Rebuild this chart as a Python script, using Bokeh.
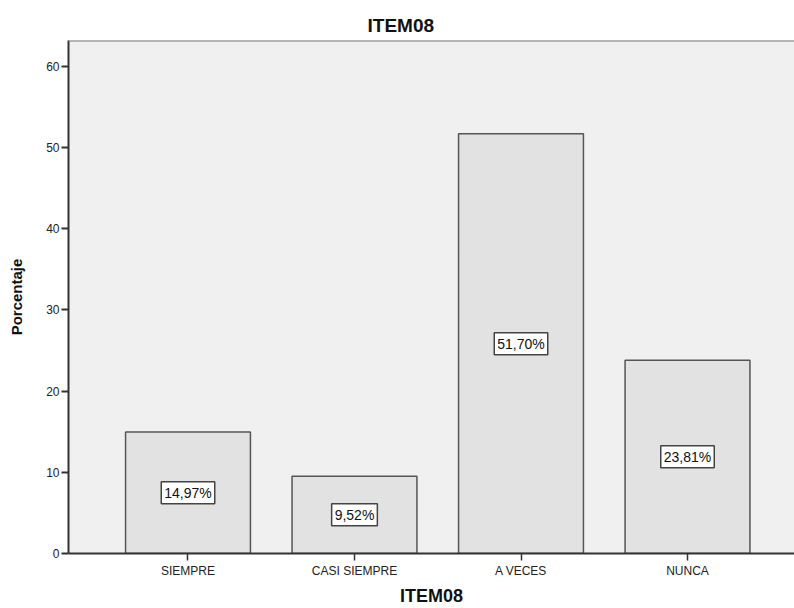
from bokeh.plotting import figure
from bokeh.models import Range1d, FixedTicker, ColumnDataSource, Span
from bokeh.core.properties import value
from bokeh.embed import file_html
from bokeh.resources import INLINE

categories = ["SIEMPRE", "CASI SIEMPRE", "A VECES", "NUNCA"]
percentages = [14.97, 9.52, 51.70, 23.81]
bar_labels = ["14,97%", "9,52%", "51,70%", "23,81%"]
y_ticks = [0, 10, 20, 30, 40, 50, 60]

FONT = "Liberation Sans"
positions = [i + 1 for i in range(len(categories))]
src = ColumnDataSource(dict(
    x=positions,
    top=percentages,
    mid=[v / 2 for v in percentages],
    lab=bar_labels,
))

Y_END = 63.2
p = figure(width=794, height=608, output_backend="svg", toolbar_location=None,
           x_range=Range1d(0.2823, 4.6426), y_range=Range1d(0, Y_END),
           min_border_left=68, min_border_right=0, min_border_top=40,
           min_border_bottom=55, background_fill_color="#F0F0F0",
           border_fill_color="white")
p.outline_line_color = None
p.xgrid.visible = False
p.ygrid.visible = False

p.title.text = "ITEM08"
p.title.align = "left"
p.title.offset = 299
p.title.text_font = FONT
p.title.text_font_size = "19px"
p.title.text_font_style = "bold"
p.title.text_color = "#111111"
p.title.standoff = 9

p.vbar(x="x", top="top", width=0.75, source=src, fill_color="#E2E2E2",
       line_color="#555555", line_width=1.5)

p.text(x="x", y="mid", text="lab", source=src, text_align="center",
       text_baseline="middle", text_font=value(FONT), text_font_size="14px",
       text_color="#111111", background_fill_color="white",
       border_line_color="#444444", border_line_width=1.5, padding=3)

p.add_layout(Span(location=Y_END, dimension="width", line_color="#777777",
                  line_width=2))

xa = p.xaxis[0]
xa.ticker = FixedTicker(ticks=positions)
xa.major_label_overrides = {pos: cat for pos, cat in zip(positions, categories)}
xa.axis_label = "ITEM08"
xa.axis_label_text_font = FONT
xa.axis_label_text_font_size = "18px"
xa.axis_label_text_font_style = "bold"
xa.axis_label_text_color = "#111111"
xa.axis_label_standoff = 5
xa.major_label_text_font = FONT
xa.major_label_text_font_size = "12px"
xa.major_label_text_color = "#222222"
xa.major_label_standoff = 3
xa.major_tick_in = 0
xa.major_tick_out = 7
xa.minor_tick_line_color = None
xa.axis_line_color = "#333333"
xa.axis_line_width = 2
xa.major_tick_line_color = "#333333"
xa.major_tick_line_width = 1.5

ya = p.yaxis[0]
ya.ticker = FixedTicker(ticks=y_ticks)
ya.axis_label = "Porcentaje"
ya.axis_label_text_font = FONT
ya.axis_label_text_font_size = "15px"
ya.axis_label_text_font_style = "bold"
ya.axis_label_text_color = "#111111"
ya.axis_label_standoff = 18
ya.major_label_text_font = FONT
ya.major_label_text_font_size = "12px"
ya.major_label_text_color = "#222222"
ya.major_label_standoff = 2
ya.major_tick_in = 0
ya.major_tick_out = 7
ya.minor_tick_line_color = None
ya.axis_line_color = "#333333"
ya.axis_line_width = 2
ya.major_tick_line_color = "#333333"
ya.major_tick_line_width = 2

open("out.html", "w").write(file_html(p, INLINE))
